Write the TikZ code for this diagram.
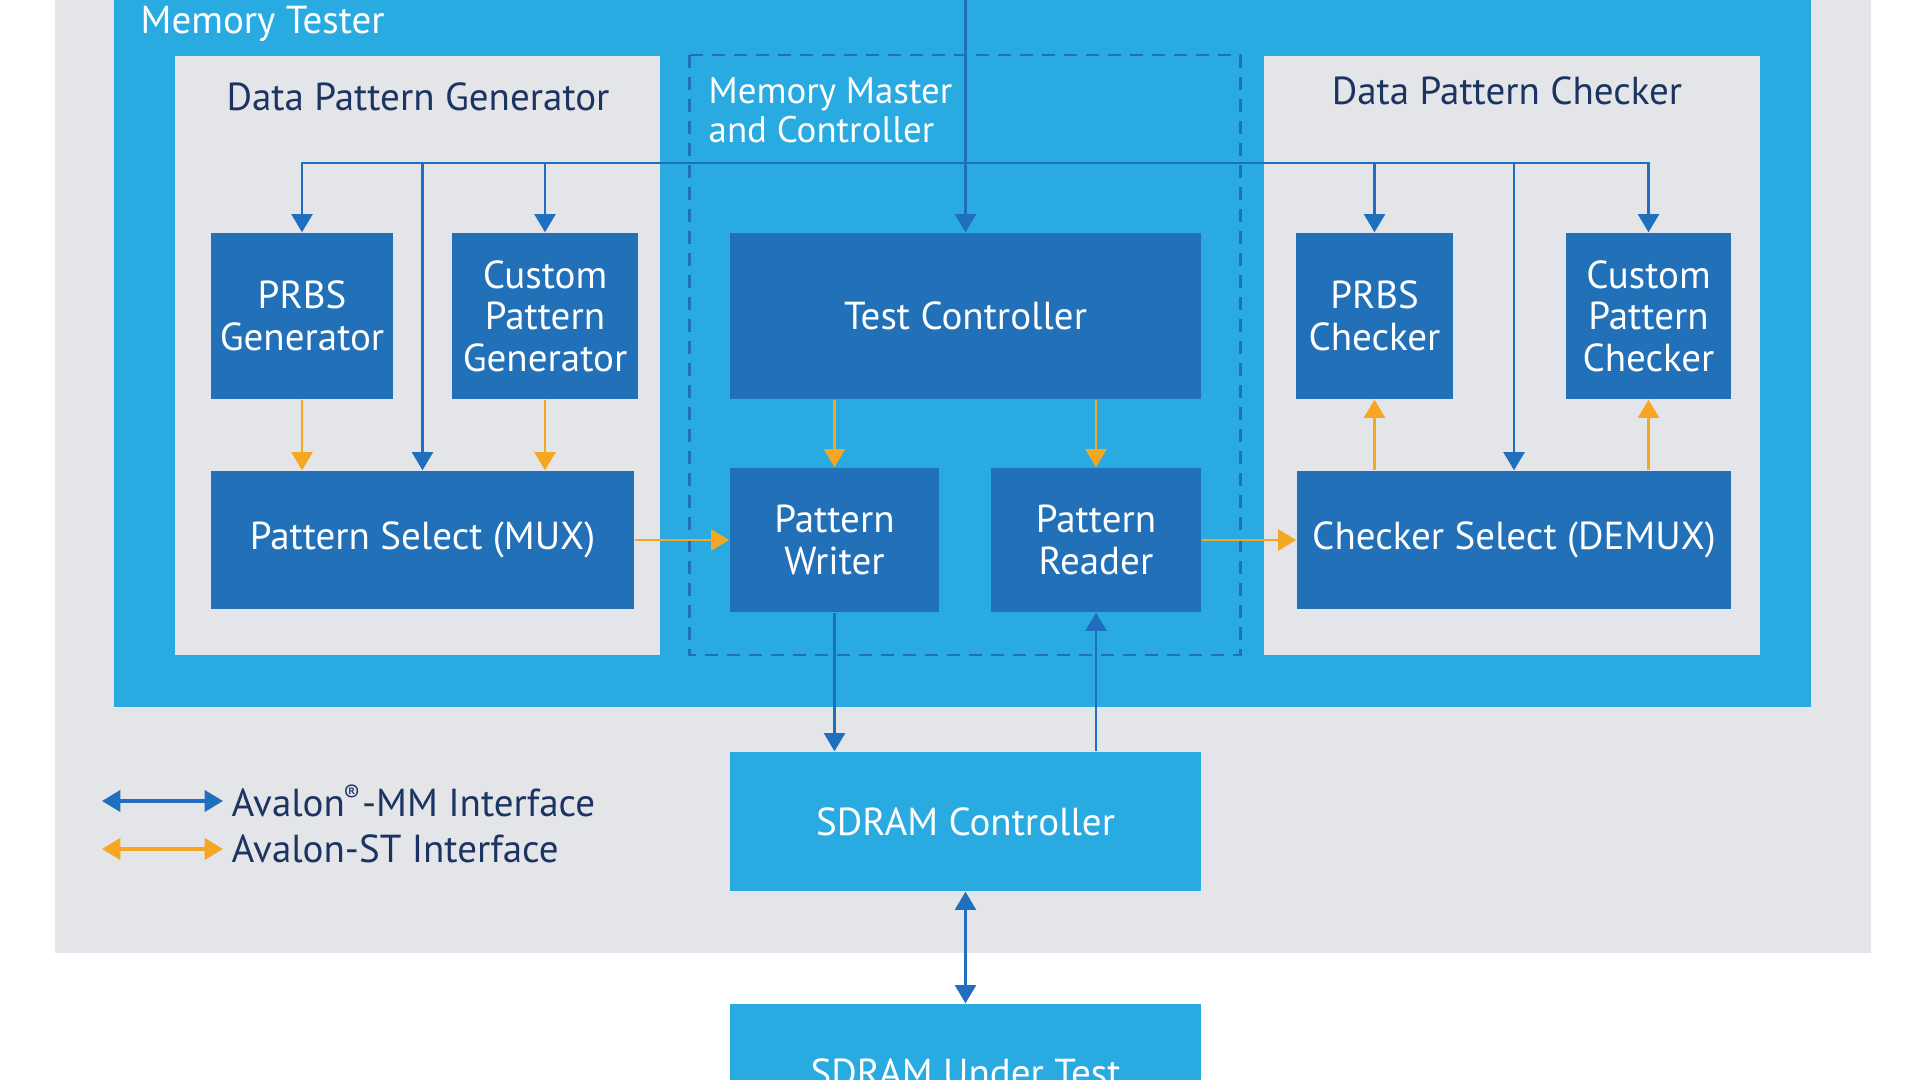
\documentclass[tikz,border=0pt]{standalone}
\usepackage{fontspec}
\setmainfont{PT Sans}
\usepackage{xcolor}
\usepackage{tikz}
\usetikzlibrary{arrows.meta,positioning}

\definecolor{bggrey}{RGB}{228,229,232}
\definecolor{mtblue}{RGB}{41,170,225}
\definecolor{boxblue}{RGB}{34,112,184}
\definecolor{lineblue}{RGB}{31,111,190}
\definecolor{storange}{RGB}{245,166,35}
\definecolor{navy}{RGB}{28,52,98}

\begin{document}
\begin{tikzpicture}[x=1cm,y=-1cm,
	font=\fontsize{11.1}{11.8}\selectfont,
	blk/.style={fill=boxblue,text=white,align=center,inner sep=0pt},
	ctl/.style={fill=mtblue,text=white,align=center,inner sep=0pt},
	mm/.style={lineblue,line width=0.7pt,-{Triangle[width=6pt,length=5.2pt]}},
	st/.style={storange,line width=0.7pt,-{Triangle[width=6pt,length=5.2pt]}},
	both/.style={{Triangle[width=6pt,length=5.2pt]}-{Triangle[width=6pt,length=5.2pt]}},
	ttl/.style={text=navy,inner sep=0pt}]
	\clip (0,0) rectangle (19.2,10.8);
	\fill[white] (0,0) rectangle (19.2,10.8);
	\fill[bggrey] (0.55,-0.1) rectangle (18.71,9.53);
	\fill[mtblue] (1.14,-0.1) rectangle (18.11,7.07);
	\fill[bggrey] (1.75,0.56) rectangle (6.60,6.55);
	\fill[bggrey] (12.64,0.56) rectangle (17.60,6.55);
	\draw[boxblue,line width=0.85pt,dash pattern=on 0.13cm off 0.09cm] (6.89,0.55) rectangle (12.40,6.55);

	\node[text=white,inner sep=0pt,anchor=west] (mtlbl) at (1.40,0.24) {Memory Tester};
	\node[ttl] (dpglbl) at (4.18,0.97) {Data Pattern Generator};
	\node[ttl] (dpclbl) at (15.07,0.91) {Data Pattern Checker};
	\node[text=white,inner sep=0pt,anchor=west,align=left,font=\fontsize{10.5}{11.1}\selectfont] (mmclbl) at (7.08,1.105) {Memory Master\\and Controller};

	\node[blk,minimum width=1.82cm,minimum height=1.66cm] (prbsgen) at (3.02,3.16) {PRBS\\Generator};
	\node[blk,minimum width=1.86cm,minimum height=1.66cm] (custgen) at (5.45,3.16) {Custom\\Pattern\\Generator};
	\node[blk,minimum width=4.71cm,minimum height=1.66cm] (tc) at (9.655,3.16) {Test Controller};
	\node[blk,minimum width=1.57cm,minimum height=1.66cm] (prbschk) at (13.745,3.16) {PRBS\\Checker};
	\node[blk,minimum width=1.65cm,minimum height=1.66cm] (custchk) at (16.485,3.16) {Custom\\Pattern\\Checker};
	\node[blk,minimum width=4.23cm,minimum height=1.38cm] (mux) at (4.225,5.40) {Pattern Select (MUX)};
	\node[blk,minimum width=2.09cm,minimum height=1.44cm] (writer) at (8.345,5.40) {Pattern\\Writer};
	\node[blk,minimum width=2.10cm,minimum height=1.44cm] (reader) at (10.96,5.40) {Pattern\\Reader};
	\node[blk,minimum width=4.34cm,minimum height=1.38cm] (demux) at (15.14,5.40) {Checker Select (DEMUX)};
	\node[ctl,minimum width=4.71cm,minimum height=1.39cm] (sdramc) at (9.655,8.215) {SDRAM Controller};
	\node[ctl,minimum width=4.71cm,minimum height=1.38cm] (sdramut) at (9.655,10.73) {SDRAM Under Test};

	\coordinate (top) at (9.655,-0.1);
	\coordinate (bus) at (9.655,1.63);
	\draw[mm] (top) -- (tc.north);
	\draw[mm] (bus) -| (prbsgen.north);
	\draw[mm] (bus) -| (mux.north);
	\draw[mm] (bus) -| (custgen.north);
	\draw[mm] (bus) -| (prbschk.north);
	\draw[mm] (bus) -| (demux.north);
	\draw[mm] (bus) -| (custchk.north);

	\draw[st] (prbsgen.south) -- (prbsgen.south |- mux.north);
	\draw[st] (custgen.south) -- (custgen.south |- mux.north);
	\draw[st] (writer.north |- tc.south) -- (writer.north);
	\draw[st] (reader.north |- tc.south) -- (reader.north);
	\draw[st] (mux) -- (writer);
	\draw[st] (reader) -- (demux);
	\draw[st] (prbschk.south |- demux.north) -- (prbschk.south);
	\draw[st] (custchk.south |- demux.north) -- (custchk.south);

	\draw[mm] (writer.south) -- (writer.south |- sdramc.north);
	\draw[mm] (reader.south |- sdramc.north) -- (reader.south);
	\draw[mm,both] (sdramc) -- (sdramut);

	\coordinate (mma) at (1.02,8.01);
	\coordinate (mmb) at (2.23,8.01);
	\coordinate (sta) at (1.02,8.49);
	\coordinate (stb) at (2.23,8.49);
	\draw[mm,both,line width=1pt] (mma) -- (mmb);
	\draw[st,both,line width=1pt] (sta) -- (stb);
	\node[ttl,anchor=west] (mmlbl) at (2.31,8.01) {Avalon\textsuperscript{\kern-0.5pt\scriptsize®}-MM Interface};
	\node[ttl,anchor=west] (stlbl) at (2.31,8.49) {Avalon-ST Interface};
\end{tikzpicture}
\end{document}
